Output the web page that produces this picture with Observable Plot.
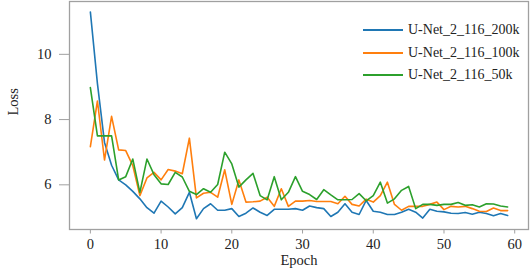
<!DOCTYPE html>
<html>
<head>
<meta charset="utf-8">
<script src="https://cdn.jsdelivr.net/npm/d3@7"></script>
<script src="https://cdn.jsdelivr.net/npm/@observablehq/plot@0.6"></script>
<style>
  html, body { margin: 0; padding: 0; background: #fff; }
  #wrap { position: relative; width: 531px; height: 279px; }
  #legend { position: absolute; left: 363px; top: 19px; font-family: "Liberation Serif", serif; font-size: 14px; color: #222; }
  .row { display: flex; align-items: center; height: 22.5px; }
  .row svg { margin-right: 5px; }
</style>
</head>
<body>
<div id="wrap"></div>
<script>
const epochs = d3.range(60);
const seriesNames = ["U-Net_2_116_200k", "U-Net_2_116_100k", "U-Net_2_116_50k"];
const seriesColors = ["#1f77b4", "#ff7f0e", "#2ca02c"];
const loss200k = [
  11.30, 9.10, 7.30, 6.60, 6.15, 6.00, 5.80, 5.57, 5.30, 5.13,
  5.50, 5.32, 5.11, 5.30, 5.77, 4.96, 5.27, 5.42, 5.22, 5.22,
  5.27, 5.03, 5.13, 5.29, 5.16, 5.06, 5.25, 5.25, 5.25, 5.27,
  5.22, 5.35, 5.30, 5.27, 5.03, 5.16, 5.42, 5.16, 5.09, 5.52,
  5.19, 5.16, 5.09, 5.09, 5.16, 5.25, 5.16, 4.98, 5.25, 5.19,
  5.17, 5.13, 5.12, 5.15, 5.10, 5.16, 5.12, 5.05, 5.12, 5.06
];
const loss100k = [
  7.17, 8.57, 6.76, 8.10, 7.07, 7.05, 6.59, 5.67, 6.21, 6.38,
  6.15, 6.47, 6.42, 6.34, 7.43, 5.60, 5.74, 5.77, 5.62, 6.46,
  5.40, 6.15, 5.47, 5.48, 5.50, 5.62, 5.34, 5.88, 5.34, 5.50,
  5.50, 5.52, 5.49, 5.49, 5.49, 5.42, 5.65, 5.40, 5.35, 5.56,
  5.47, 5.67, 6.08, 5.40, 5.22, 5.34, 5.34, 5.34, 5.40, 5.47,
  5.24, 5.34, 5.32, 5.34, 5.27, 5.19, 5.18, 5.29, 5.21, 5.21
];
const loss50k = [
  8.98, 7.50, 7.50, 7.50, 6.15, 6.25, 6.79, 5.77, 6.79, 6.31,
  6.03, 6.01, 6.38, 6.24, 5.80, 5.70, 5.88, 5.77, 6.01, 7.00,
  6.64, 5.93, 6.15, 6.35, 5.67, 5.54, 6.25, 5.54, 5.77, 6.25,
  5.80, 5.70, 5.55, 5.85, 5.69, 5.54, 5.54, 5.55, 5.73, 5.51,
  5.67, 6.08, 5.44, 5.57, 5.83, 5.95, 5.27, 5.40, 5.40, 5.37,
  5.40, 5.40, 5.46, 5.37, 5.39, 5.32, 5.42, 5.41, 5.35, 5.32
];
const xTicks = [0, 10, 20, 30, 40, 50, 60];
const yTicks = [6, 8, 10];

const allSeries = [loss200k, loss100k, loss50k];
const rows = [];
allSeries.forEach((vals, s) => vals.forEach((v, i) => rows.push({epoch: epochs[i], loss: v, series: seriesNames[s]})));

const axisColor = "#a0a0a0";
const font = "Liberation Serif, serif";

const chart = Plot.plot({
  width: 531,
  height: 279,
  marginLeft: 69,
  marginRight: 3,
  marginTop: 1,
  marginBottom: 50,
  style: {fontFamily: font, fontSize: "14.5px", color: "#222", background: "#fff"},
  x: {domain: [-2.95, 61.95]},
  y: {domain: [4.63, 11.62]},
  color: {domain: seriesNames, range: seriesColors},
  marks: [
    Plot.line(rows, {x: "epoch", y: "loss", z: "series", stroke: "series", strokeWidth: 1.6}),
    Plot.frame({stroke: axisColor, strokeWidth: 1.3}),
    Plot.axisX({ticks: xTicks, tickSize: 4.5, tickPadding: 5, stroke: axisColor, label: null, fill: "#222"}),
    Plot.axisY({ticks: yTicks, tickSize: 10, tickPadding: 8, stroke: axisColor, label: null, fill: "#222", tickFormat: d => String(d)}),
    Plot.text(["Epoch"], {text: d => d, frameAnchor: "bottom", dy: 35, fontSize: 14.5, fill: "#222"}),
    Plot.text(["Loss"], {text: d => d, frameAnchor: "left", rotate: -90, dx: -56, fontSize: 14.5, fill: "#222"})
  ]
});

const wrap = document.getElementById("wrap");
wrap.appendChild(chart);

const legend = document.createElement("div");
legend.id = "legend";
seriesNames.forEach((name, i) => {
  const row = document.createElement("div");
  row.className = "row";
  row.innerHTML = `<svg width="40" height="4"><line x1="0" x2="40" y1="2" y2="2" stroke="${seriesColors[i]}" stroke-width="1.8"/></svg><span>${name}</span>`;
  legend.appendChild(row);
});
wrap.appendChild(legend);
</script>
</body>
</html>
